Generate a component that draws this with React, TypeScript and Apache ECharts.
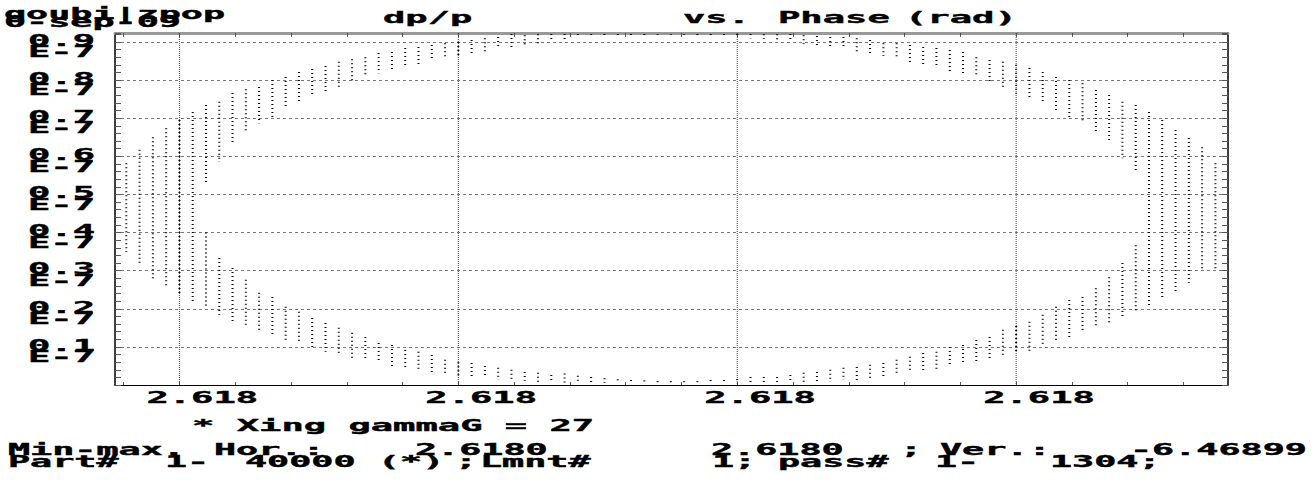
import React, { useEffect, useRef } from "react";
import * as echarts from "echarts";

// ---- data ----
// column index along the phase axis (grid lines fall on columns 4, 25, 46, 67)
const columnIndex = [
  0, 1, 2, 3, 4, 5, 6, 7, 8, 9, 10, 11, 12, 13, 14, 15, 16, 17, 18, 19, 20,
  21, 22, 23, 24, 25, 26, 27, 28, 29, 30, 31, 32, 33, 34, 35, 36, 37, 38, 39, 40,
  41, 42, 43, 44, 45, 46, 47, 48, 49, 50, 51, 52, 53, 54, 55, 56, 57, 58, 59, 60,
  61, 62, 63, 64, 65, 66, 67, 68, 69, 70, 71, 72, 73, 74, 75, 76, 77, 78, 79, 80,
  81, 82,
];
// upper band of dp/p
const upperHigh = [
  0.582, 0.617, 0.65, 0.674, 0.695, 0.716, 0.735, 0.743, 0.766, 0.776, 0.782,
  0.8, 0.808, 0.821, 0.829, 0.837, 0.848, 0.855, 0.86, 0.871, 0.874,
  0.884, 0.887, 0.892, 0.897, 0.9, 0.905, 0.91, 0.913, 0.921, 0.918,
  0.92, 0.921, 0.921, 0.921, 0.921, 0.921, 0.921, 0.921, 0.921, 0.921,
  0.921, 0.921, 0.921, 0.921, 0.921, 0.921, 0.921, 0.92, 0.92, 0.921,
  0.918, 0.916, 0.913, 0.913, 0.91, 0.905, 0.897, 0.897, 0.892, 0.887,
  0.884, 0.879, 0.874, 0.86, 0.853, 0.848, 0.84, 0.832, 0.821, 0.808,
  0.8, 0.792, 0.774, 0.761, 0.743, 0.735, 0.716, 0.695, 0.669, 0.648,
  0.624, 0.582,
];
const upperLow = [
  0.349, 0.315, 0.275, 0.254, 0.235, 0.215, 0.532, 0.585, 0.63, 0.664, 0.687,
  0.703, 0.727, 0.74, 0.756, 0.766, 0.782, 0.795, 0.808, 0.818, 0.826,
  0.832, 0.84, 0.853, 0.858, 0.865, 0.871, 0.876, 0.884, 0.887, 0.892,
  0.897, 0.902, 0.908, 0.913, 0.916, 0.915, 0.917, 0.917, 0.918, 0.919,
  0.919, 0.919, 0.918, 0.917, 0.916, 0.914, 0.91, 0.908, 0.902, 0.9,
  0.895, 0.887, 0.884, 0.882, 0.874, 0.871, 0.863, 0.855, 0.847, 0.837,
  0.832, 0.821, 0.818, 0.808, 0.792, 0.782, 0.765, 0.756, 0.74, 0.721,
  0.7, 0.687, 0.664, 0.637, 0.595, 0.564, 0.205, 0.228, 0.244, 0.268,
  0.302, 0.302,
];
// lower band (null where the column is one continuous strip)
const lowerHigh = [
  null, null, null, null, null, null, 0.4, 0.333, 0.307, 0.276, 0.242,
  0.231, 0.205, 0.192, 0.176, 0.163, 0.15, 0.137, 0.126, 0.11, 0.105,
  0.092, 0.087, 0.079, 0.066, 0.06, 0.058, 0.05, 0.045, 0.04, 0.034,
  0.032, 0.026, 0.03, 0.024, 0.021, 0.018, 0.015, 0.013, 0.012, 0.01,
  0.01, 0.01, 0.01, 0.013, 0.013, 0.016, 0.021, 0.021, 0.021, 0.026,
  0.032, 0.034, 0.04, 0.045, 0.047, 0.053, 0.058, 0.066, 0.074, 0.084,
  0.087, 0.1, 0.105, 0.118, 0.126, 0.145, 0.155, 0.166, 0.184, 0.205,
  0.223, 0.231, 0.254, 0.283, 0.32, 0.367, null, null, null, null,
  null, null,
];
const lowerLow = [
  null, null, null, null, null, null, 0.205, 0.184, 0.163, 0.152, 0.139,
  0.131, 0.118, 0.11, 0.097, 0.087, 0.084, 0.071, 0.066, 0.058, 0.047,
  0.045, 0.04, 0.034, 0.032, 0.025, 0.019, 0.019, 0.013, 0.013, 0.011,
  0.008, 0.005, 0.005, 0.005, 0.005, 0.005, 0.005, 0.005, 0.005, 0.005,
  0.005, 0.005, 0.005, 0.005, 0.005, 0.005, 0.005, 0.006, 0.006, 0.005,
  0.005, 0.008, 0.008, 0.013, 0.013, 0.019, 0.021, 0.026, 0.032, 0.032,
  0.04, 0.047, 0.053, 0.06, 0.071, 0.079, 0.083, 0.087, 0.105, 0.113,
  0.123, 0.137, 0.15, 0.163, 0.176, 0.192, null, null, null, null,
  null, null,
];

const yTickValues = [0.1, 0.2, 0.3, 0.4, 0.5, 0.6, 0.7, 0.8, 0.9];
const yTickLabels = ["0.1", "0.2", "0.3", "0.4", "0.5", "0.6", "0.7", "0.8", "0.9"];
const yExponentLabel = "E-7";
const xTickValues = [4, 25, 46, 67];
const xTickLabels = ["2.618", "2.618", "2.618", "2.618"];
const xAllTicks = [
  -0.2, 4, 8.2, 12.4, 16.6, 20.8, 25, 29.2, 33.4, 37.6, 41.8, 46, 50.2, 54.4,
  58.6, 62.8, 67, 71.2, 75.4, 79.6,
];
const X_MIN = -0.85;
const X_MAX = 82.95;
const Y_MIN = 0;
const Y_MAX = 0.9236;

const titleLeft = ["goubi|zpop", "0-sep-09"];
const titleMain = ["dp/p", "vs.", "Phase", "(rad)"];
const subTitle = "* Xing gammaG = 27";
const footLine1 = ["Min-max.", "Hor.:", "2.6180", "2.6180", ";", "Ver.:", "-6.46899"];
const footLine2 = ["Part#", "1-", "40000", "(*)", ";", "Lmnt#", "1;", "pass#", "1-", "1304;"];

// ---- styling ----
const FONT = 'bold 16.5px "DejaVu Sans Mono", "Liberation Mono", monospace';
const FONT_SMALL = 'bold 15px "DejaVu Sans Mono", "Liberation Mono", monospace';
const SX = 2.25;
const SX_SMALL = 2.45;

function txt(text: string, x: number, y: number, small = false) {
  return {
    type: "text",
    x,
    y,
    scaleX: small ? SX_SMALL : SX,
    style: {
      text,
      font: small ? FONT_SMALL : FONT,
      fill: "#000",
      stroke: "#000",
      lineWidth: 0.4,
      textAlign: "left",
      textVerticalAlign: "middle",
    },
  };
}

export default function App() {
  const ref = useRef<HTMLDivElement>(null);
  useEffect(() => {
    if (!ref.current) return;
    const chart = echarts.init(ref.current, undefined, { renderer: "svg" });

    const segments: number[][] = [];
    columnIndex.forEach((x, i) => {
      segments.push([x, upperLow[i] as number, upperHigh[i] as number]);
      if (lowerHigh[i] != null && lowerLow[i] != null) {
        segments.push([x, lowerLow[i] as number, lowerHigh[i] as number]);
      }
    });

    const line1X = [8, 214, 415, 711, 900, 940, 1130];
    const line2X = [8, 165, 245, 378, 455, 480, 712, 778, 935, 1050];
    const mainX = [383, 683, 778, 905];

    const graphics: any[] = [
      txt(titleLeft[0], 4, 14, true),
      txt(titleLeft[1], 4, 22, true),
      ...titleMain.map((t, i) => txt(t, mainX[i], 17)),
      txt(subTitle, 192, 425),
      ...footLine1.map((t, i) => txt(t, line1X[i], 450, true)),
      ...footLine2.map((t, i) => txt(t, line2X[i], 462, true)),
    ];

    const tickStyle = { color: "#555", width: 1 };

    chart.setOption({
      animation: false,
      backgroundColor: "#fff",
      grid: { left: 115, top: 33, right: 84, bottom: 97, containLabel: false },
      xAxis: [
        {
          type: "value",
          min: X_MIN,
          max: X_MAX,
          position: "bottom",
          axisLine: { show: true, onZero: false, lineStyle: { color: "#000", width: 1 } },
          axisTick: { show: true, inside: true, length: 3, customValues: xAllTicks, lineStyle: tickStyle },
          axisLabel: { show: false },
          splitLine: { show: false },
        },
        {
          type: "value",
          min: X_MIN,
          max: X_MAX,
          position: "top",
          axisLine: { show: true, onZero: false, lineStyle: { color: "#999", width: 3 } },
          axisTick: { show: true, inside: true, length: 4, customValues: xAllTicks, lineStyle: tickStyle },
          axisLabel: { show: false },
          splitLine: { show: false },
        },
      ],
      yAxis: [
        {
          type: "value",
          min: Y_MIN,
          max: Y_MAX,
          interval: 0.1,
          position: "left",
          axisLine: { show: true, onZero: false, lineStyle: { color: "#000", width: 1.5 } },
          axisTick: { show: true, inside: true, length: 6, lineStyle: tickStyle },
          minorTick: { show: true, splitNumber: 5, length: 6, lineStyle: tickStyle },
          axisLabel: { show: false },
          splitLine: { show: true, lineStyle: { color: "#777", width: 1, type: [3, 3] } },
        },
        {
          type: "value",
          min: Y_MIN,
          max: Y_MAX,
          interval: 0.1,
          position: "right",
          axisLine: { show: true, onZero: false, lineStyle: { color: "#000", width: 1.5 } },
          axisTick: { show: true, inside: true, length: 6, lineStyle: tickStyle },
          minorTick: { show: true, splitNumber: 5, length: 6, lineStyle: tickStyle },
          axisLabel: { show: false },
          splitLine: { show: false },
        },
      ],
      series: [
        {
          type: "custom",
          name: "vgrid",
          silent: true,
          clip: false,
          data: xTickValues.map((v) => [v]),
          encode: { x: 0 },
          renderItem: (params: any, api: any) => {
            const a = api.coord([api.value(0), Y_MAX]);
            const b = api.coord([api.value(0), Y_MIN]);
            return {
              type: "line",
              shape: { x1: a[0], y1: a[1], x2: b[0], y2: b[1] },
              style: { stroke: "#444", lineWidth: 1, lineDash: [1, 1] },
            };
          },
        },
        {
          type: "custom",
          name: "dp/p",
          clip: true,
          data: segments,
          encode: { x: 0, y: [1, 2] },
          renderItem: (params: any, api: any) => {
            const x = api.value(0);
            const a = api.coord([x, api.value(2)]);
            const b = api.coord([x, api.value(1)]);
            return {
              type: "line",
              shape: { x1: a[0], y1: a[1], x2: b[0], y2: b[1] },
              style: { stroke: "#000", lineWidth: 2, lineDash: [1, 3] },
            };
          },
        },
        {
          type: "custom",
          name: "ylabels",
          silent: true,
          clip: false,
          data: yTickValues.map((v) => [X_MIN, v]),
          encode: { x: 0, y: 1 },
          renderItem: (params: any, api: any) => {
            const p = api.coord([api.value(0), api.value(1)]);
            return {
              type: "group",
              children: [
                txt(yTickLabels[params.dataIndex], p[0] - 87, p[1] - 2),
                txt(yExponentLabel, p[0] - 87, p[1] + 9.5),
              ],
            };
          },
        },
        {
          type: "custom",
          name: "xlabels",
          silent: true,
          clip: false,
          data: xTickValues.map((v) => [v, Y_MIN]),
          encode: { x: 0, y: 1 },
          renderItem: (params: any, api: any) => {
            const p = api.coord([api.value(0), api.value(1)]);
            return txt(xTickLabels[params.dataIndex], p[0] - 33, p[1] + 12);
          },
        },
      ],
      graphic: graphics,
    });

    return () => chart.dispose();
  }, []);

  return (
    <div
      ref={ref}
      style={{ position: "fixed", left: 0, top: 0, width: 1312, height: 482, background: "#fff" }}
    />
  );
}
